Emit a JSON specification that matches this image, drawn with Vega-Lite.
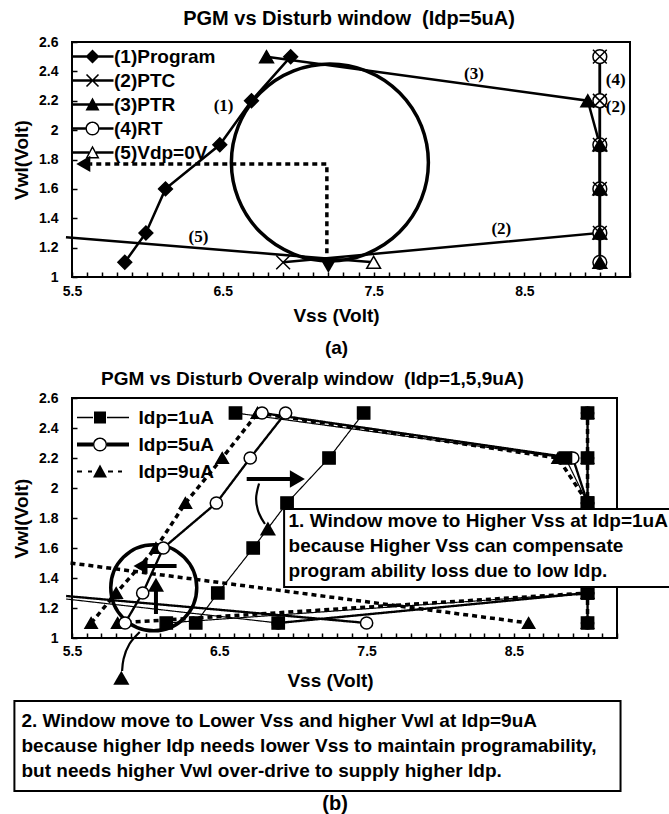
{
  "$schema": "https://vega.github.io/schema/vega-lite/v6.json",
  "background": "white",
  "padding": {"left": 11, "top": 8, "right": 0, "bottom": 0},
  "spacing": 11,
  "resolve": {
    "scale": {"x": "independent", "y": "independent", "shape": "independent", "fill": "independent", "strokeWidth": "independent", "strokeDash": "independent"},
    "legend": {"shape": "independent", "fill": "independent"}
  },
  "config": {
    "view": {"stroke": "black", "strokeWidth": 2},
    "font": "Liberation Sans",
    "title": {"font": "Liberation Sans", "fontSize": 19, "fontWeight": "bold", "color": "black"},
    "axis": {
      "grid": false, "domain": false, "tickColor": "black", "tickWidth": 1.5, "tickSize": -5,
      "labelFont": "Liberation Sans", "labelFontSize": 14, "labelFontWeight": "bold", "labelColor": "black",
      "titleFont": "Liberation Sans", "titleFontSize": 19, "titleFontWeight": "bold", "titleColor": "black",
      "labelOverlap": false, "labelFlush": false
    },
    "legend": {
      "orient": "none", "legendX": 0, "title": null, "padding": 0,
      "labelFont": "Liberation Sans", "labelFontSize": 19, "labelFontWeight": "bold", "labelColor": "black",
      "symbolSize": 4, "symbolStrokeWidth": 0, "symbolOpacity": 1, "symbolFillColor": "black"
    }
  },
  "datasets": {
    "top": [
      {"series": "(4)RT", "i": 1, "x": 9, "y": 1.1}, {"series": "(4)RT", "i": 2, "x": 9, "y": 1.3}, {"series": "(4)RT", "i": 3, "x": 9, "y": 1.6},
      {"series": "(4)RT", "i": 4, "x": 9, "y": 1.9}, {"series": "(4)RT", "i": 5, "x": 9, "y": 2.2}, {"series": "(4)RT", "i": 6, "x": 9, "y": 2.5},
      {"series": "(2)PTC", "i": 1, "x": 6.9, "y": 1.1}, {"series": "(2)PTC", "i": 2, "x": 9, "y": 1.3}, {"series": "(2)PTC", "i": 3, "x": 9, "y": 1.6},
      {"series": "(2)PTC", "i": 4, "x": 9, "y": 1.9}, {"series": "(2)PTC", "i": 5, "x": 9, "y": 2.2}, {"series": "(2)PTC", "i": 6, "x": 9, "y": 2.5},
      {"series": "(3)PTR", "i": 1, "x": 6.79, "y": 2.5}, {"series": "(3)PTR", "i": 2, "x": 8.92, "y": 2.2}, {"series": "(3)PTR", "i": 3, "x": 9, "y": 1.9},
      {"series": "(3)PTR", "i": 4, "x": 9, "y": 1.6}, {"series": "(3)PTR", "i": 5, "x": 9, "y": 1.3}, {"series": "(3)PTR", "i": 6, "x": 9, "y": 1.1},
      {"series": "(1)Program", "i": 1, "x": 5.85, "y": 1.1}, {"series": "(1)Program", "i": 2, "x": 5.99, "y": 1.3}, {"series": "(1)Program", "i": 3, "x": 6.12, "y": 1.6},
      {"series": "(1)Program", "i": 4, "x": 6.48, "y": 1.9}, {"series": "(1)Program", "i": 5, "x": 6.69, "y": 2.2}, {"series": "(1)Program", "i": 6, "x": 6.95, "y": 2.5},
      {"series": "(5)Vdp=0V", "i": 1, "x": 5.46, "y": 1.27}, {"series": "(5)Vdp=0V", "i": 2, "x": 7.5, "y": 1.1}
    ],
    "topWindow": [{"x": 7.21, "y": 1.78}],
    "topArrow": [{"i": 1, "x": 7.19, "y": 1.1}, {"i": 2, "x": 7.19, "y": 1.77}, {"i": 3, "x": 5.62, "y": 1.77}],
    "topHeads": [{"dir": "left", "x": 5.575, "y": 1.77}, {"dir": "down", "x": 7.2, "y": 1.075}],
    "topLabels": [
      {"t": "(1)", "x": 6.505, "y": 2.166}, {"t": "(3)", "x": 8.165, "y": 2.38}, {"t": "(4)", "x": 9.105, "y": 2.34},
      {"t": "(2)", "x": 9.105, "y": 2.16}, {"t": "(2)", "x": 8.347, "y": 1.33}, {"t": "(5)", "x": 6.338, "y": 1.27}
    ],
    "bottom": [
      {"Idp": "Idp=9uA", "seg": "prog", "i": 1, "x": 5.63, "y": 1.1}, {"Idp": "Idp=9uA", "seg": "prog", "i": 2, "x": 5.8, "y": 1.3},
      {"Idp": "Idp=9uA", "seg": "prog", "i": 3, "x": 6.07, "y": 1.6}, {"Idp": "Idp=9uA", "seg": "prog", "i": 4, "x": 6.27, "y": 1.9},
      {"Idp": "Idp=9uA", "seg": "prog", "i": 5, "x": 6.52, "y": 2.2}, {"Idp": "Idp=9uA", "seg": "prog", "i": 6, "x": 6.76, "y": 2.5},
      {"Idp": "Idp=9uA", "seg": "ptr", "i": 1, "x": 6.76, "y": 2.5}, {"Idp": "Idp=9uA", "seg": "ptr", "i": 2, "x": 8.8, "y": 2.2},
      {"Idp": "Idp=9uA", "seg": "ptr", "i": 3, "x": 9, "y": 1.9},
      {"Idp": "Idp=9uA", "seg": "ptc", "i": 1, "x": 5.81, "y": 1.1}, {"Idp": "Idp=9uA", "seg": "ptc", "i": 2, "x": 9, "y": 1.3},
      {"Idp": "Idp=9uA", "seg": "vdp", "i": 1, "x": 5.49, "y": 1.5}, {"Idp": "Idp=9uA", "seg": "vdp", "i": 2, "x": 8.6, "y": 1.1},
      {"Idp": "Idp=9uA", "seg": "rt", "i": 1, "x": 9, "y": 1.1}, {"Idp": "Idp=9uA", "seg": "rt", "i": 2, "x": 9, "y": 1.3},
      {"Idp": "Idp=9uA", "seg": "rt", "i": 3, "x": 9, "y": 1.6}, {"Idp": "Idp=9uA", "seg": "rt", "i": 4, "x": 9, "y": 1.9},
      {"Idp": "Idp=9uA", "seg": "rt", "i": 5, "x": 9, "y": 2.2}, {"Idp": "Idp=9uA", "seg": "rt", "i": 6, "x": 9, "y": 2.5},
      {"Idp": "Idp=5uA", "seg": "prog", "i": 1, "x": 5.86, "y": 1.1}, {"Idp": "Idp=5uA", "seg": "prog", "i": 2, "x": 5.98, "y": 1.3},
      {"Idp": "Idp=5uA", "seg": "prog", "i": 3, "x": 6.12, "y": 1.6}, {"Idp": "Idp=5uA", "seg": "prog", "i": 4, "x": 6.48, "y": 1.9},
      {"Idp": "Idp=5uA", "seg": "prog", "i": 5, "x": 6.71, "y": 2.2}, {"Idp": "Idp=5uA", "seg": "prog", "i": 6, "x": 6.95, "y": 2.5},
      {"Idp": "Idp=5uA", "seg": "ptr", "i": 1, "x": 6.79, "y": 2.5}, {"Idp": "Idp=5uA", "seg": "ptr", "i": 2, "x": 8.9, "y": 2.2},
      {"Idp": "Idp=5uA", "seg": "ptr", "i": 3, "x": 9, "y": 1.9},
      {"Idp": "Idp=5uA", "seg": "ptc", "i": 1, "x": 6.9, "y": 1.1}, {"Idp": "Idp=5uA", "seg": "ptc", "i": 2, "x": 9, "y": 1.3},
      {"Idp": "Idp=5uA", "seg": "vdp", "i": 1, "x": 5.46, "y": 1.28}, {"Idp": "Idp=5uA", "seg": "vdp", "i": 2, "x": 7.5, "y": 1.1},
      {"Idp": "Idp=5uA", "seg": "rt", "i": 1, "x": 9, "y": 1.1}, {"Idp": "Idp=5uA", "seg": "rt", "i": 2, "x": 9, "y": 1.3},
      {"Idp": "Idp=5uA", "seg": "rt", "i": 3, "x": 9, "y": 1.6}, {"Idp": "Idp=5uA", "seg": "rt", "i": 4, "x": 9, "y": 1.9},
      {"Idp": "Idp=5uA", "seg": "rt", "i": 5, "x": 9, "y": 2.2}, {"Idp": "Idp=5uA", "seg": "rt", "i": 6, "x": 9, "y": 2.5},
      {"Idp": "Idp=1uA", "seg": "prog", "i": 1, "x": 6.34, "y": 1.1}, {"Idp": "Idp=1uA", "seg": "prog", "i": 2, "x": 6.49, "y": 1.3},
      {"Idp": "Idp=1uA", "seg": "prog", "i": 3, "x": 6.73, "y": 1.6}, {"Idp": "Idp=1uA", "seg": "prog", "i": 4, "x": 6.96, "y": 1.9},
      {"Idp": "Idp=1uA", "seg": "prog", "i": 5, "x": 7.245, "y": 2.2}, {"Idp": "Idp=1uA", "seg": "prog", "i": 6, "x": 7.48, "y": 2.5},
      {"Idp": "Idp=1uA", "seg": "ptr", "i": 1, "x": 6.61, "y": 2.5}, {"Idp": "Idp=1uA", "seg": "ptr", "i": 2, "x": 8.85, "y": 2.2},
      {"Idp": "Idp=1uA", "seg": "ptr", "i": 3, "x": 9, "y": 1.9},
      {"Idp": "Idp=1uA", "seg": "ptc", "i": 1, "x": 6.14, "y": 1.1}, {"Idp": "Idp=1uA", "seg": "ptc", "i": 2, "x": 9, "y": 1.3},
      {"Idp": "Idp=1uA", "seg": "vdp", "i": 1, "x": 5.46, "y": 1.26}, {"Idp": "Idp=1uA", "seg": "vdp", "i": 2, "x": 6.9, "y": 1.1},
      {"Idp": "Idp=1uA", "seg": "rt", "i": 1, "x": 9, "y": 1.1}, {"Idp": "Idp=1uA", "seg": "rt", "i": 2, "x": 9, "y": 1.3},
      {"Idp": "Idp=1uA", "seg": "rt", "i": 3, "x": 9, "y": 1.6}, {"Idp": "Idp=1uA", "seg": "rt", "i": 4, "x": 9, "y": 1.9},
      {"Idp": "Idp=1uA", "seg": "rt", "i": 5, "x": 9, "y": 2.2}, {"Idp": "Idp=1uA", "seg": "rt", "i": 6, "x": 9, "y": 2.5}
    ],
    "bottomCircle": [{"x": 6.055, "y": 1.335}],
    "bottomArrows": [
      {"a": "a1", "kind": "straight", "i": 1, "x": 6.686, "y": 2.06}, {"a": "a1", "kind": "straight", "i": 2, "x": 6.99, "y": 2.06},
      {"a": "a3", "kind": "straight", "i": 1, "x": 6.21, "y": 1.48}, {"a": "a3", "kind": "straight", "i": 2, "x": 5.99, "y": 1.48},
      {"a": "a4", "kind": "straight", "i": 1, "x": 6.07, "y": 1.16}, {"a": "a4", "kind": "straight", "i": 2, "x": 6.07, "y": 1.33},
      {"a": "a2", "kind": "curve", "i": 1, "x": 6.77, "y": 2.03}, {"a": "a2", "kind": "curve", "i": 2, "x": 6.75, "y": 1.93},
      {"a": "a2", "kind": "curve", "i": 3, "x": 6.77, "y": 1.83}, {"a": "a2", "kind": "curve", "i": 4, "x": 6.81, "y": 1.76},
      {"a": "a5", "kind": "curve", "i": 1, "x": 5.96, "y": 1.04}, {"a": "a5", "kind": "curve", "i": 2, "x": 5.89, "y": 0.96},
      {"a": "a5", "kind": "curve", "i": 3, "x": 5.85, "y": 0.86}, {"a": "a5", "kind": "curve", "i": 4, "x": 5.84, "y": 0.78}
    ],
    "bottomHeads": [
      {"dir": "right", "x": 7.03, "y": 2.06}, {"dir": "up", "x": 6.83, "y": 1.73}, {"dir": "left", "x": 5.965, "y": 1.48},
      {"dir": "up", "x": 6.07, "y": 1.355}, {"dir": "up", "x": 5.835, "y": 0.735}
    ],
    "boxes": [
      {"box": "1", "x": 6.94, "x2": 9.7, "y": 1.34, "y2": 1.86},
      {"box": "2", "x": 5.109, "x2": 9.224, "y": -0.02, "y2": 0.58}
    ],
    "notes": [
      {"t": "1. Window move to Higher Vss at Idp=1uA", "x": 6.97, "y": 1.78},
      {"t": "because Higher Vss can compensate", "x": 6.97, "y": 1.613},
      {"t": "program ability loss due to low Idp.", "x": 6.97, "y": 1.447},
      {"t": "2. Window move to Lower Vss and higher Vwl at Idp=9uA", "x": 5.157, "y": 0.447},
      {"t": "because higher Idp needs lower Vss to maintain programability,", "x": 5.157, "y": 0.28},
      {"t": "but needs higher Vwl over-drive to supply higher Idp.", "x": 5.157, "y": 0.113}
    ],
    "caption": [{"t": "(b)", "x": 7.286, "y": -0.107}]
  },
  "vconcat": [
    {
      "title": {"text": "PGM vs Disturb window \u00a0(Idp=5uA)", "offset": 6, "dx": -2, "fontSize": 20},
      "width": 558,
      "height": 235,
      "resolve": {"scale": {"shape": "independent", "fill": "independent"}, "legend": {"shape": "independent"}},
      "layer": [
        {
          "data": {"name": "top"},
          "mark": {"type": "line", "color": "black", "strokeWidth": 2.5},
          "encoding": {
            "x": {"field": "x", "type": "quantitative", "scale": {"domain": [5.5, 9.2], "nice": false, "zero": false},
              "axis": {"values": [5.5,5.6,5.7,5.8,5.9,6,6.1,6.2,6.3,6.4,6.5,6.6,6.7,6.8,6.9,7,7.1,7.2,7.3,7.4,7.5,7.6,7.7,7.8,7.9,8,8.1,8.2,8.3,8.4,8.5,8.6,8.7,8.8,8.9,9,9.1,9.2],
                "tickCount": 200, "format": ".1f", "labelExpr": "indexof(['5.5','6.5','7.5','8.5'], datum.label) >= 0 ? datum.label : ''",
                "labelOverlap": false, "labelFlush": false,
                "labelPadding": 12, "title": ["Vss (Volt)", "(a)"], "titlePadding": 8, "titleLineHeight": 32, "titleX": 264}},
            "y": {"field": "y", "type": "quantitative", "scale": {"domain": [1, 2.6], "nice": false, "zero": false},
              "axis": {"values": [1,1.2,1.4,1.6,1.8,2,2.2,2.4,2.6], "tickCount": 200, "format": "~g", "labelOverlap": false, "labelFlush": false, "labelPadding": 19, "title": "Vwl(Volt)", "titlePadding": 7}},
            "detail": {"field": "series"},
            "order": {"field": "i"}
          }
        },
        {
          "data": {"name": "topWindow"},
          "mark": {"type": "point", "shape": "circle", "size": 38809, "filled": false, "stroke": "black", "strokeWidth": 3.5, "opacity": 1},
          "encoding": {"x": {"field": "x", "type": "quantitative"}, "y": {"field": "y", "type": "quantitative"}}
        },
        {
          "data": {"name": "topArrow"},
          "mark": {"type": "line", "color": "black", "strokeWidth": 3.5, "strokeDash": [5, 4]},
          "encoding": {"x": {"field": "x", "type": "quantitative"}, "y": {"field": "y", "type": "quantitative"}, "order": {"field": "i"}}
        },
        {
          "data": {"name": "topHeads"},
          "transform": [{"filter": "datum.dir == 'left'"}],
          "mark": {"type": "point", "shape": "triangle-left", "size": 260, "filled": true, "color": "black", "opacity": 1},
          "encoding": {"x": {"field": "x", "type": "quantitative"}, "y": {"field": "y", "type": "quantitative"}}
        },
        {
          "data": {"name": "topHeads"},
          "transform": [{"filter": "datum.dir == 'down'"}],
          "mark": {"type": "point", "shape": "triangle-down", "size": 260, "filled": true, "color": "black", "opacity": 1},
          "encoding": {"x": {"field": "x", "type": "quantitative"}, "y": {"field": "y", "type": "quantitative"}}
        },
        {
          "data": {"name": "top"},
          "transform": [{"filter": "datum.x >= 5.5"}],
          "mark": {"type": "point", "size": 190, "stroke": "black", "strokeWidth": 1.5, "opacity": 1},
          "encoding": {
            "x": {"field": "x", "type": "quantitative"},
            "y": {"field": "y", "type": "quantitative"},
            "shape": {"field": "series", "type": "nominal",
              "scale": {"domain": ["(1)Program", "(2)PTC", "(3)PTR", "(4)RT", "(5)Vdp=0V"],
                "range": ["diamond", "M-1,-1L1,1M-1,1L1,-1", "triangle-up", "circle", "triangle-up"]},
              "legend": null},
            "fill": {"field": "series", "type": "nominal",
              "scale": {"domain": ["(1)Program", "(2)PTC", "(3)PTR", "(4)RT", "(5)Vdp=0V"],
                "range": ["black", "transparent", "black", "white", "white"]},
              "legend": null}
          }
        },
        {
          "data": {"name": "top"},
          "transform": [{"filter": "false"}],
          "mark": {"type": "point", "filled": true, "color": "black", "opacity": 1},
          "encoding": {
            "x": {"field": "x", "type": "quantitative"},
            "y": {"field": "y", "type": "quantitative"},
            "shape": {"field": "series", "type": "nominal",
              "scale": {"domain": ["(1)Program", "(2)PTC", "(3)PTR", "(4)RT", "(5)Vdp=0V"],
                "range": [
                  "M-10,-1.2H32V1.2H-10Z M11,-7L18,0L11,7L4,0Z",
                  "M-10,-1.2H32V1.2H-10Z M5.57,-6.57L17.57,5.43L16.43,6.57L4.43,-5.43Z M5.57,6.57L4.43,5.43L16.43,-6.57L17.57,-5.43Z",
                  "M-10,-1.2H32V1.2H-10Z M11,-7L18,6L4,6Z",
                  "M-10,-1.2H4V1.2H-10Z M18,-1.2H32V1.2H18Z M4,0A7,7 0 1,1 18,0A7,7 0 1,1 4,0Z M5.4,0A5.6,5.6 0 1,0 16.6,0A5.6,5.6 0 1,0 5.4,0Z",
                  "M-10,-1.2H7.5V1.2H-10Z M14.5,-1.2H32V1.2H14.5Z M11,-7L18,6L4,6Z M11,-3.9L6.5,4.6L15.5,4.6Z"
                ]},
              "legend": {"legendY": 5, "labelOffset": 23, "rowPadding": 4}
            }
          }
        },
        {
          "data": {"name": "topLabels"},
          "mark": {"type": "text", "font": "Liberation Serif", "fontSize": 17, "fontWeight": "bold", "color": "black", "align": "center", "baseline": "middle"},
          "encoding": {"x": {"field": "x", "type": "quantitative"}, "y": {"field": "y", "type": "quantitative"}, "text": {"field": "t"}}
        }
      ]
    },
    {
      "title": {"text": "PGM vs Disturb Overalp window \u00a0(Idp=1,5,9uA)", "offset": 2, "dx": -32},
      "width": 545,
      "height": 240,
      "resolve": {"scale": {"shape": "independent", "fill": "independent"}, "legend": {"shape": "independent"}},
      "layer": [
        {
          "data": {"name": "bottom"},
          "mark": {"type": "line", "color": "black"},
          "encoding": {
            "x": {"field": "x", "type": "quantitative", "scale": {"domain": [5.5, 9.2], "nice": false, "zero": false},
              "axis": {"values": [5.5,5.6,5.7,5.8,5.9,6,6.1,6.2,6.3,6.4,6.5,6.6,6.7,6.8,6.9,7,7.1,7.2,7.3,7.4,7.5,7.6,7.7,7.8,7.9,8,8.1,8.2,8.3,8.4,8.5,8.6,8.7,8.8,8.9,9,9.1,9.2],
                "tickCount": 200, "format": ".1f", "labelExpr": "indexof(['5.5','6.5','7.5','8.5'], datum.label) >= 0 ? datum.label : ''",
                "labelOverlap": false, "labelFlush": false,
                "labelPadding": 11, "title": "Vss (Volt)", "titlePadding": 13, "titleX": 258}},
            "y": {"field": "y", "type": "quantitative", "scale": {"domain": [1, 2.6], "nice": false, "zero": false},
              "axis": {"values": [1,1.2,1.4,1.6,1.8,2,2.2,2.4,2.6], "tickCount": 200, "format": "~g", "labelOverlap": false, "labelFlush": false, "labelPadding": 19, "title": "Vwl(Volt)", "titlePadding": 7}},
            "strokeWidth": {"field": "Idp", "type": "nominal", "scale": {"domain": ["Idp=1uA", "Idp=5uA", "Idp=9uA"], "range": [1.2, 3.5, 2]}, "legend": null},
            "strokeDash": {"field": "Idp", "type": "nominal", "scale": {"domain": ["Idp=1uA", "Idp=5uA", "Idp=9uA"], "range": [[1, 0], [1, 0], [5, 4]]}, "legend": null},
            "detail": {"field": "seg"},
            "order": {"field": "i"}
          }
        },
        {
          "data": {"name": "bottomCircle"},
          "mark": {"type": "point", "shape": "circle", "size": 7396, "filled": false, "stroke": "black", "strokeWidth": 3.5, "opacity": 1},
          "encoding": {"x": {"field": "x", "type": "quantitative"}, "y": {"field": "y", "type": "quantitative"}}
        },
        {
          "data": {"name": "bottomArrows"},
          "transform": [{"filter": "datum.kind == 'straight'"}],
          "mark": {"type": "line", "color": "black", "strokeWidth": 4},
          "encoding": {"x": {"field": "x", "type": "quantitative"}, "y": {"field": "y", "type": "quantitative"}, "detail": {"field": "a"}, "order": {"field": "i"}}
        },
        {
          "data": {"name": "bottomArrows"},
          "transform": [{"filter": "datum.kind == 'curve'"}],
          "mark": {"type": "line", "color": "black", "strokeWidth": 2.2, "interpolate": "natural"},
          "encoding": {"x": {"field": "x", "type": "quantitative"}, "y": {"field": "y", "type": "quantitative"}, "detail": {"field": "a"}, "order": {"field": "i"}}
        },
        {
          "data": {"name": "bottomHeads"},
          "transform": [{"filter": "datum.dir == 'right'"}],
          "mark": {"type": "point", "shape": "triangle-right", "size": 300, "filled": true, "color": "black", "opacity": 1},
          "encoding": {"x": {"field": "x", "type": "quantitative"}, "y": {"field": "y", "type": "quantitative"}}
        },
        {
          "data": {"name": "bottomHeads"},
          "transform": [{"filter": "datum.dir == 'left'"}],
          "mark": {"type": "point", "shape": "triangle-left", "size": 260, "filled": true, "color": "black", "opacity": 1},
          "encoding": {"x": {"field": "x", "type": "quantitative"}, "y": {"field": "y", "type": "quantitative"}}
        },
        {
          "data": {"name": "bottomHeads"},
          "transform": [{"filter": "datum.dir == 'up'"}],
          "mark": {"type": "point", "shape": "triangle-up", "size": 260, "filled": true, "color": "black", "opacity": 1},
          "encoding": {"x": {"field": "x", "type": "quantitative"}, "y": {"field": "y", "type": "quantitative"}}
        },
        {
          "data": {"name": "bottom"},
          "transform": [{"filter": "datum.x >= 5.5"}],
          "mark": {"type": "point", "size": 150, "stroke": "black", "strokeWidth": 1.5, "opacity": 1},
          "encoding": {
            "x": {"field": "x", "type": "quantitative"},
            "y": {"field": "y", "type": "quantitative"},
            "shape": {"field": "Idp", "type": "nominal",
              "scale": {"domain": ["Idp=1uA", "Idp=5uA", "Idp=9uA"], "range": ["square", "circle", "triangle-up"]},
              "legend": null},
            "fill": {"field": "Idp", "type": "nominal",
              "scale": {"domain": ["Idp=1uA", "Idp=5uA", "Idp=9uA"], "range": ["black", "white", "black"]},
              "legend": null}
          }
        },
        {
          "data": {"name": "bottom"},
          "transform": [{"filter": "false"}],
          "mark": {"type": "point", "filled": true, "color": "black", "opacity": 1},
          "encoding": {
            "x": {"field": "x", "type": "quantitative"},
            "y": {"field": "y", "type": "quantitative"},
            "shape": {"field": "Idp", "type": "nominal",
              "scale": {"domain": ["Idp=1uA", "Idp=5uA", "Idp=9uA"],
                "range": [
                  "M-4.5,-0.7H11.5V0.7H-4.5Z M25.5,-0.7H47.5V0.7H25.5Z M12.5,-6H24.5V6H12.5Z",
                  "M-4.5,-2H11.5V2H-4.5Z M25.5,-2H47.5V2H25.5Z M11.5,0A7,7 0 1,1 25.5,0A7,7 0 1,1 11.5,0Z M12.9,0A5.6,5.6 0 1,0 24.1,0A5.6,5.6 0 1,0 12.9,0Z",
                  "M-4.5,-1H0.5V1H-4.5Z M6.5,-1H10.5V1H6.5Z M26.5,-1H31.5V1H26.5Z M36.5,-1H40.5V1H36.5Z M18.5,-7L25.5,6L11.5,6Z"
                ]},
              "legend": {"legendY": 10, "labelOffset": 47.5, "rowPadding": 7}
            }
          }
        },
        {
          "data": {"name": "boxes"},
          "mark": {"type": "rect", "fill": "white", "stroke": "black", "strokeWidth": 2},
          "encoding": {"x": {"field": "x", "type": "quantitative"}, "x2": {"field": "x2"}, "y": {"field": "y", "type": "quantitative"}, "y2": {"field": "y2"}}
        },
        {
          "data": {"name": "notes"},
          "mark": {"type": "text", "font": "Liberation Sans", "fontSize": 19, "fontWeight": "bold", "color": "black", "align": "left", "baseline": "middle"},
          "encoding": {"x": {"field": "x", "type": "quantitative"}, "y": {"field": "y", "type": "quantitative"}, "text": {"field": "t"}}
        },
        {
          "data": {"name": "caption"},
          "mark": {"type": "text", "font": "Liberation Sans", "fontSize": 20, "fontWeight": "bold", "color": "black", "align": "center", "baseline": "middle"},
          "encoding": {"x": {"field": "x", "type": "quantitative"}, "y": {"field": "y", "type": "quantitative"}, "text": {"field": "t"}}
        }
      ]
    }
  ]
}
